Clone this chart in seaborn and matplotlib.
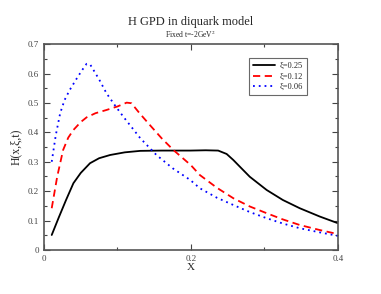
import matplotlib
matplotlib.use("Agg")
import matplotlib.pyplot as plt
import seaborn as sns
import pandas as pd
from matplotlib.ticker import MultipleLocator, FuncFormatter

# Data
x_black = [0.0105, 0.02, 0.03, 0.04, 0.05, 0.0626, 0.075, 0.09, 0.11, 0.131, 0.16, 0.199, 0.22, 0.237, 0.2485, 0.2576, 0.267, 0.28, 0.303, 0.325, 0.348, 0.375, 0.4]
y_black = [0.051, 0.11, 0.17, 0.227, 0.262, 0.295, 0.312, 0.323, 0.332, 0.337, 0.338, 0.338, 0.339, 0.338, 0.3265, 0.306, 0.282, 0.249, 0.204, 0.17, 0.142, 0.114, 0.091]

x_red = [0.0105, 0.018, 0.026, 0.033, 0.04, 0.05, 0.058, 0.07, 0.085, 0.1, 0.1125, 0.119, 0.13, 0.144, 0.16, 0.176, 0.2, 0.212, 0.235, 0.2576, 0.28, 0.303, 0.325, 0.348, 0.375, 0.4]
y_red = [0.142, 0.25, 0.34, 0.382, 0.408, 0.435, 0.451, 0.465, 0.476, 0.488, 0.501, 0.499, 0.465, 0.425, 0.38, 0.34, 0.288, 0.255, 0.212, 0.176, 0.148, 0.125, 0.104, 0.085, 0.068, 0.054]

x_blue = [0.0105, 0.016, 0.022, 0.028, 0.035, 0.045, 0.052, 0.058, 0.063, 0.075, 0.085, 0.097, 0.108, 0.12, 0.131, 0.153, 0.175, 0.199, 0.212, 0.235, 0.2576, 0.28, 0.303, 0.325, 0.348, 0.375, 0.4]
y_blue = [0.30, 0.39, 0.465, 0.51, 0.544, 0.585, 0.612, 0.633, 0.63, 0.58, 0.533, 0.49, 0.453, 0.415, 0.38, 0.323, 0.278, 0.238, 0.21, 0.178, 0.153, 0.129, 0.108, 0.09, 0.074, 0.06, 0.048]

labels = ["\u03be=0.25", "\u03be=0.12", "\u03be=0.06"]
colors = ["black", "red", "blue"]

frames = []
for xs, ys, lab in zip([x_black, x_red, x_blue], [y_black, y_red, y_blue], labels):
    frames.append(pd.DataFrame({"x": xs, "H": ys, "series": lab}))
df = pd.concat(frames, ignore_index=True)

sns.set_style("ticks")
plt.rcParams['font.family'] = ['Liberation Serif', 'DejaVu Serif']
plt.rcParams['mathtext.fontset'] = 'stix'

fig = plt.figure(figsize=(3.81, 2.94), dpi=100)
ax = fig.add_axes([0.1155, 0.1497, 0.7715, 0.7003])

sns.lineplot(data=df, x="x", y="H", hue="series", style="series",
             palette=dict(zip(labels, colors)),
             dashes={labels[0]: "", labels[1]: (4, 2.5), labels[2]: (1, 2.2)},
             sort=False, estimator=None, lw=1.3, ax=ax, legend=True)

ax.set_xlim(0, 0.4)
ax.set_ylim(0, 0.7)
ax.xaxis.set_major_locator(MultipleLocator(0.2))
ax.xaxis.set_minor_locator(MultipleLocator(0.1))
ax.yaxis.set_major_locator(MultipleLocator(0.1))
ax.yaxis.set_minor_locator(MultipleLocator(0.05))
ax.xaxis.set_major_formatter(FuncFormatter(lambda v, p: "0" if abs(v) < 1e-9 else f"{v:g}"))
ax.yaxis.set_major_formatter(FuncFormatter(lambda v, p: "0" if abs(v) < 1e-9 else f"{v:.1f}"))
ax.tick_params(which="both", direction="in", top=True, right=True, labelsize=6.5, colors="#444444", width=0.8)
ax.tick_params(which="major", length=4)
ax.tick_params(which="minor", length=2)
for s in ax.spines.values():
    s.set_linewidth(1.2)
    s.set_color("#555555")
    s.set_visible(True)

ax.set_xlabel("X", fontsize=8, labelpad=0)
ax.set_ylabel("H(x,\u03be,t)", fontsize=8.5, labelpad=4)

fig.text(0.5, 0.925, "H GPD in diquark model", ha="center", va="center", fontsize=9)
fig.text(0.5, 0.885, "Fixed t=-2GeV$^2$", ha="center", va="center", fontsize=5.5)

leg = ax.legend(loc="upper right", bbox_to_anchor=(0.895, 0.932), borderaxespad=0,
                fontsize=6, frameon=True, fancybox=False, edgecolor="#444444",
                handlelength=2.6, handletextpad=0.6, borderpad=0.5, labelspacing=0.3)
leg.get_frame().set_linewidth(0.8)

fig.savefig("out.png", dpi=100)
